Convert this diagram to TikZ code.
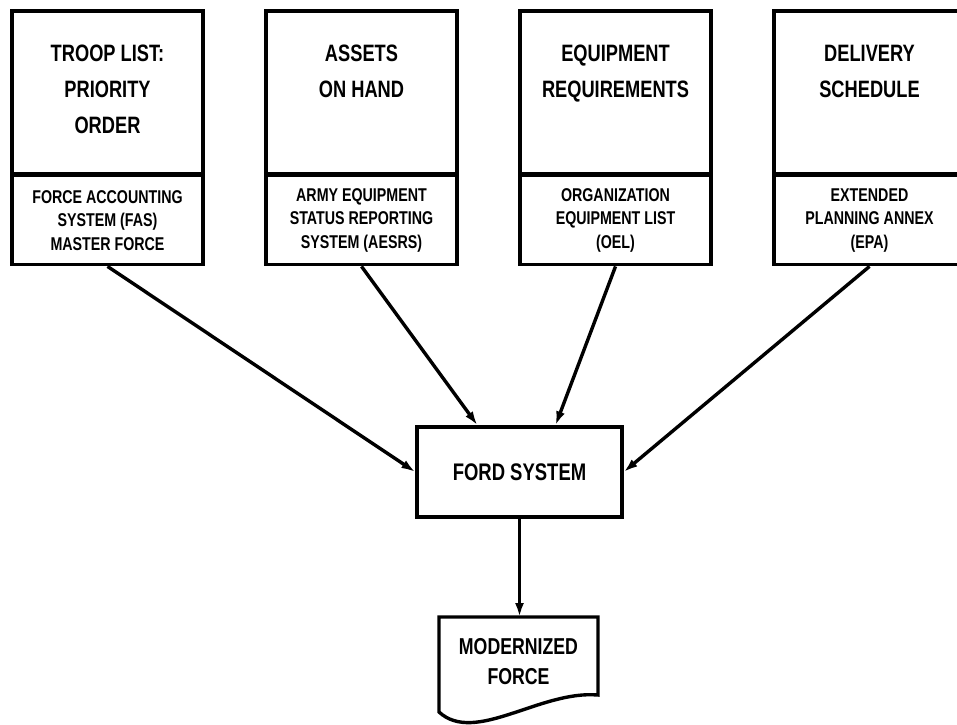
\documentclass[tikz,border=0pt]{standalone}
\usepackage{fontspec}
\setmainfont{Liberation Sans}[FakeStretch=0.77]
\usetikzlibrary{arrows.meta,positioning}

\begin{document}
\begin{tikzpicture}[x=1pt,y=-1pt,node distance=254pt,line width=3.4pt,
    >={Latex[length=14pt,width=9pt]}]
  \tikzstyle{headbox}=[draw,minimum width=191pt,minimum height=163pt,inner sep=0pt,outer sep=0pt]
  \tikzstyle{headtext}=[anchor=north,yshift=-32pt,inner sep=0pt,align=center,
    font=\bfseries\fontsize{23.7}{36}\selectfont]
  \tikzstyle{srcbox}=[draw,anchor=north,minimum width=191pt,minimum height=89pt,
    inner sep=0pt,align=center,font=\bfseries\fontsize{18.5}{23.5}\selectfont]
  \tikzstyle{mainbox}=[draw,minimum width=205pt,minimum height=90pt,
    font=\bfseries\fontsize{24}{30}\selectfont]

  \useasboundingbox (0,0) rectangle (957,724);
  \clip (0,0) rectangle (957,724);

  % input boxes
  \node[headbox,label={[headtext]north:{TROOP LIST:\\PRIORITY\\ORDER}}] (troop) at (107.5,92.5) {};
  \node[headbox,label={[headtext]north:{ASSETS\\ON HAND}}]              (assets) [right of=troop]  {};
  \node[headbox,label={[headtext]north:{EQUIPMENT\\REQUIREMENTS}}]      (equip)  [right of=assets] {};
  \node[headbox,label={[headtext]north:{DELIVERY\\SCHEDULE}}]           (deliv)  [right of=equip]  {};

  \node[srcbox] (fas)   at (troop.south)  {FORCE ACCOUNTING\\SYSTEM (FAS)\\MASTER FORCE};
  \node[srcbox] (aesrs) at (assets.south) {ARMY EQUIPMENT\\STATUS REPORTING\\SYSTEM (AESRS)};
  \node[srcbox] (oel)   at (equip.south)  {ORGANIZATION\\EQUIPMENT LIST\\(OEL)};
  \node[srcbox] (epa)   at (deliv.south)  {EXTENDED\\PLANNING ANNEX\\(EPA)};

  \node[mainbox] (ford) at (519.5,472) {FORD SYSTEM};

  % output document
  \node[outer sep=0pt,minimum width=159pt,minimum height=90pt,align=center,
        font=\bfseries\fontsize{23}{30}\selectfont] (force) at (518.5,662) {MODERNIZED\\FORCE};
  \draw (force.north west) -- (force.north east) -- ([yshift=12pt]force.south east)
        .. controls (540,690) and (475,745) .. ([yshift=-5pt]force.south west) -- cycle;

  \path[->]
  (fas.south)   edge (ford.west)
  (aesrs.south) edge ([xshift=-42pt]ford.north)
  (oel.south)   edge ([xshift=36pt]ford.north)
  (epa.south)   edge (ford.east)
  (ford.south)  edge (ford.south |- force.north);
\end{tikzpicture}
\end{document}
